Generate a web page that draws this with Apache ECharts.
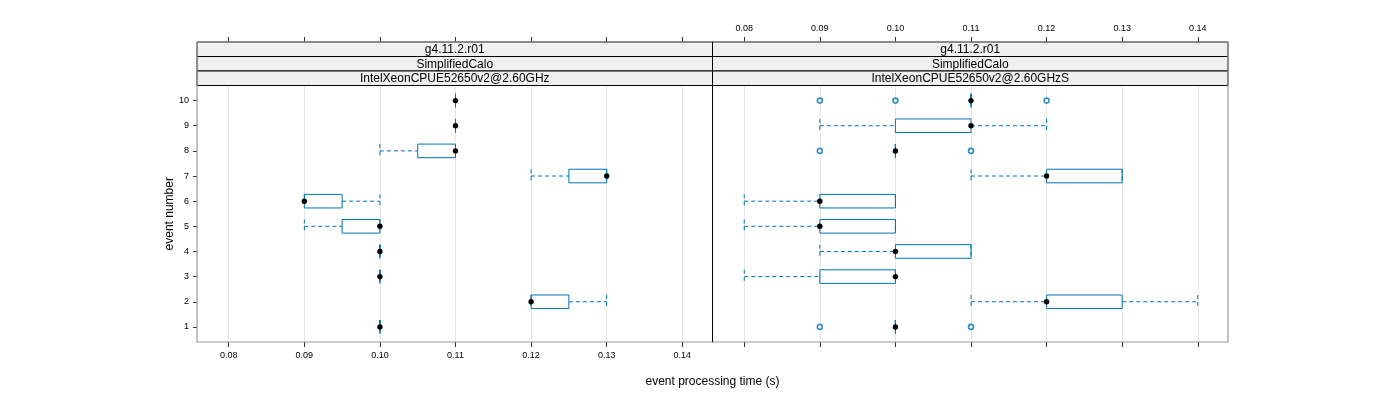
<!DOCTYPE html>
<html>
<head>
<meta charset="utf-8">
<script src="https://cdn.jsdelivr.net/npm/echarts@6/dist/echarts.min.js"></script>
<style>html,body{margin:0;padding:0;background:#fff}#c{width:1400px;height:400px}</style>
</head>
<body>
<div id="c"></div>
<script>
// ---- data ----
const events = [1, 2, 3, 4, 5, 6, 7, 8, 9, 10];
const xTicks = [0.08, 0.09, 0.10, 0.11, 0.12, 0.13, 0.14];
const yTicks = [1, 2, 3, 4, 5, 6, 7, 8, 9, 10];
const stripLines = ['g4.11.2.r01', 'SimplifiedCalo'];
const panelNames = ['IntelXeonCPUE52650v2@2.60GHz', 'IntelXeonCPUE52650v2@2.60GHzS'];
// [low whisker, Q1, median, Q3, high whisker] per event 1..10
const leftStats = [
  [0.10, 0.10, 0.10, 0.10, 0.10],
  [0.12, 0.12, 0.12, 0.125, 0.13],
  [0.10, 0.10, 0.10, 0.10, 0.10],
  [0.10, 0.10, 0.10, 0.10, 0.10],
  [0.09, 0.095, 0.10, 0.10, 0.10],
  [0.09, 0.09, 0.09, 0.095, 0.10],
  [0.12, 0.125, 0.13, 0.13, 0.13],
  [0.10, 0.105, 0.11, 0.11, 0.11],
  [0.11, 0.11, 0.11, 0.11, 0.11],
  [0.11, 0.11, 0.11, 0.11, 0.11]
];
const rightStats = [
  [0.10, 0.10, 0.10, 0.10, 0.10],
  [0.11, 0.12, 0.12, 0.13, 0.14],
  [0.08, 0.09, 0.10, 0.10, 0.10],
  [0.09, 0.10, 0.10, 0.11, 0.11],
  [0.08, 0.09, 0.09, 0.10, 0.10],
  [0.08, 0.09, 0.09, 0.10, 0.10],
  [0.11, 0.12, 0.12, 0.13, 0.13],
  [0.10, 0.10, 0.10, 0.10, 0.10],
  [0.09, 0.10, 0.11, 0.11, 0.12],
  [0.11, 0.11, 0.11, 0.11, 0.11]
];
// outliers: [value, event]
const rightOutliers = [
  [0.09, 1], [0.11, 1],
  [0.09, 8], [0.11, 8],
  [0.09, 10], [0.10, 10], [0.12, 10]
];
const leftOutliers = [];

// ---- layout ----
const FONT = 'Liberation Sans, Arial, sans-serif';
const BLUE = '#0072B2';
const L = 197, M = 712.5, R = 1228;
const STRIP_TOP = 42, STRIP_H = 14.5;
const PT = STRIP_TOP + 3 * STRIP_H; // 85.5
const PB = 342;
const XMIN = 0.0758, XMAX = 0.1440;

function boxData(stats) {
  return stats.map((s, i) => [events[i], s[0], s[1], s[2], s[3], s[4]]);
}

function renderBox(params, api) {
  const y = api.value(0);
  const lo = api.value(1), q1 = api.value(2), md = api.value(3), q3 = api.value(4), hi = api.value(5);
  const pLo = api.coord([lo, y]), pQ1 = api.coord([q1, y]), pMd = api.coord([md, y]);
  const pQ3 = api.coord([q3, y]), pHi = api.coord([hi, y]);
  const h = api.size([0, 1])[1] * 0.54;
  const dash = { stroke: BLUE, lineWidth: 1, lineDash: [4, 3], fill: null };
  const ch = [];
  if (lo < q1) {
    ch.push({ type: 'line', shape: { x1: pLo[0], y1: pLo[1], x2: pQ1[0], y2: pQ1[1] }, style: dash });
  }
  ch.push({ type: 'line', shape: { x1: pLo[0], y1: pLo[1] - h / 2, x2: pLo[0], y2: pLo[1] + h / 2 }, style: dash });
  if (hi > q3) {
    ch.push({ type: 'line', shape: { x1: pQ3[0], y1: pQ3[1], x2: pHi[0], y2: pHi[1] }, style: dash });
  }
  ch.push({ type: 'line', shape: { x1: pHi[0], y1: pHi[1] - h / 2, x2: pHi[0], y2: pHi[1] + h / 2 }, style: dash });
  ch.push({ type: 'rect', shape: { x: pQ1[0], y: pQ1[1] - h / 2, width: pQ3[0] - pQ1[0], height: h },
    style: { fill: null, stroke: BLUE, lineWidth: 1 } });
  ch.push({ type: 'circle', shape: { cx: pMd[0], cy: pMd[1], r: 2.7 }, style: { fill: '#000' } });
  return { type: 'group', children: ch };
}

function xAxisDef(gridIndex, position, showLabels, offset) {
  return {
    type: 'value', gridIndex, position, offset: offset || 0,
    min: XMIN, max: XMAX, splitNumber: 7,
    axisLine: { show: false },
    axisTick: { show: true, inside: false, length: 5, lineStyle: { color: '#333' }, customValues: xTicks },
    axisLabel: { show: showLabels, customValues: xTicks, fontSize: 9, color: '#000', fontFamily: FONT, margin: 9,
      formatter: v => v.toFixed(2) },
    splitLine: { show: position === 'bottom', lineStyle: { color: '#e6e6e6', width: 1 } }
  };
}

const graphics = [];
// strips
[[L, M, panelNames[0]], [M, R, panelNames[1]]].forEach(([a, b, name]) => {
  const texts = [stripLines[0], stripLines[1], name];
  texts.forEach((t, i) => {
    graphics.push({ type: 'rect', shape: { x: a, y: STRIP_TOP + i * STRIP_H, width: b - a, height: STRIP_H },
      style: { fill: '#f0f0f0', stroke: '#000', lineWidth: 1 }, z: 1 });
    graphics.push({ type: 'text', x: (a + b) / 2, y: STRIP_TOP + i * STRIP_H + STRIP_H / 2 + 0.5,
      style: { text: t, fontSize: 12, fontFamily: FONT, fill: '#000', align: 'center', verticalAlign: 'middle' }, z: 2 });
  });
});
// frame
graphics.push({ type: 'rect', shape: { x: L, y: STRIP_TOP, width: R - L, height: PB - STRIP_TOP },
  style: { fill: null, stroke: '#999', lineWidth: 1.2 }, z: 3 });
graphics.push({ type: 'line', shape: { x1: M, y1: STRIP_TOP, x2: M, y2: PB },
  style: { stroke: '#000', lineWidth: 1 }, z: 3 });
// titles
graphics.push({ type: 'text', x: (L + R) / 2, y: 382,
  style: { text: 'event processing time (s)', fontSize: 12, fontFamily: FONT, fill: '#000', align: 'center', verticalAlign: 'middle' } });
graphics.push({ type: 'text', x: 170, y: (PT + PB) / 2, rotation: Math.PI / 2,
  style: { text: 'event number', fontSize: 12, fontFamily: FONT, fill: '#000', align: 'center', verticalAlign: 'middle' } });

const option = {
  animation: false,
  backgroundColor: '#fff',
  grid: [
    { left: L, top: PT, width: M - L, height: PB - PT },
    { left: M, top: PT, width: R - M, height: PB - PT }
  ],
  xAxis: [
    xAxisDef(0, 'bottom', true),
    xAxisDef(0, 'top', false, PT - STRIP_TOP),
    xAxisDef(1, 'bottom', false),
    xAxisDef(1, 'top', true, PT - STRIP_TOP)
  ],
  yAxis: [
    { type: 'value', gridIndex: 0, min: 0.4, max: 10.6, position: 'left',
      axisLine: { show: false },
      axisTick: { show: true, length: 4, customValues: yTicks, lineStyle: { color: '#333' } },
      axisLabel: { customValues: yTicks, fontSize: 9, color: '#000', fontFamily: FONT, margin: 8 },
      splitLine: { show: false } },
    { type: 'value', gridIndex: 1, min: 0.4, max: 10.6,
      axisLine: { show: false }, axisTick: { show: false }, axisLabel: { show: false }, splitLine: { show: false } }
  ],
  graphic: graphics,
  series: [
    { type: 'custom', xAxisIndex: 0, yAxisIndex: 0, renderItem: renderBox, data: boxData(leftStats),
      encode: { x: [1, 2, 3, 4, 5], y: 0 }, z: 5 },
    { type: 'custom', xAxisIndex: 2, yAxisIndex: 1, renderItem: renderBox, data: boxData(rightStats),
      encode: { x: [1, 2, 3, 4, 5], y: 0 }, z: 5 },
    { type: 'scatter', xAxisIndex: 0, yAxisIndex: 0, data: leftOutliers, symbol: 'circle', symbolSize: 5,
      itemStyle: { color: '#fff', borderColor: BLUE, borderWidth: 1.6 }, z: 6 },
    { type: 'scatter', xAxisIndex: 2, yAxisIndex: 1, data: rightOutliers, symbol: 'circle', symbolSize: 5,
      itemStyle: { color: '#fff', borderColor: BLUE, borderWidth: 1.6 }, z: 6 }
  ]
};

const chart = echarts.init(document.getElementById('c'), null, { renderer: 'canvas' });
chart.setOption(option);
</script>
</body>
</html>
